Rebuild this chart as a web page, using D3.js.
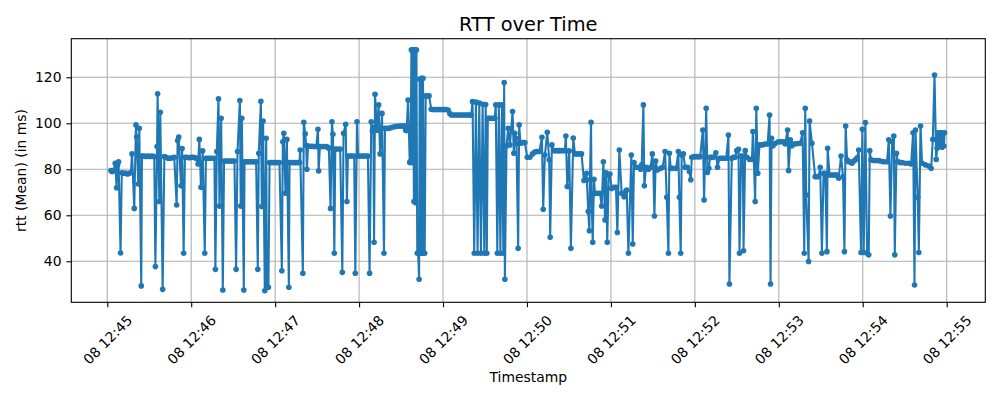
<!DOCTYPE html>
<html>
<head>
<meta charset="utf-8">
<script src="https://cdn.jsdelivr.net/npm/d3@7"></script>
<style>
  body { margin: 0; background: #fff; }
  svg { display: block; font-family: "DejaVu Sans", sans-serif; }
</style>
</head>
<body>
<svg id="chart"></svg>
<script>
// samples: [seconds after 12:45:00, rtt mean in ms]
const min45 = [[2.6,79.4],[3.5,79],[4.5,79.5],[5.7,82.6],[6.7,72],[7.4,82],[8.1,83.3],[9.5,43.6],[10.4,78.5],[11.5,78.3],[12.5,78.3],[13.5,78.3],[14.5,78],[15.5,78.3],[16.9,78.5],[17.7,86.7],[19.3,63],[20.5,99.3],[21,94],[22.2,73.6],[22.9,97.8],[24.3,29.3],[24.8,85.8],[26,85.8],[27.5,85.6],[29,85.8],[30.5,85.6],[32,85.8],[33.6,85.5],[34.4,37.7],[35.6,89.9],[36,112.8],[37.2,66],[37.9,104.8],[39.6,27.8],[40.8,85.5],[42,85.2],[43.5,84.8],[45,84.8],[46.5,85],[47.9,85.2],[49.6,64.5],[50.3,92.5],[51.1,94],[52.7,72.8],[53.5,89],[54.6,43.5],[55.5,85.2],[57,85.2],[58.5,85]];
const min46 = [[60,85.2],[61.5,85.2],[63,85],[63.5,84.8],[64.9,82.3],[65.8,93],[67,72.2],[68.2,88],[69.7,43.5],[70.5,84.8],[72,84.8],[73.5,84.8],[75,84.8],[76.6,84.8],[77.3,36.5],[78.3,87.7],[79.5,110.6],[80.2,64],[81.4,102.2],[82.6,27.5],[83.5,83.6],[85,83.6],[86.5,83.6],[88,83.6],[89.5,83.6],[90.9,83.6],[92.1,36.5],[93.1,87.7],[94.8,109.9],[95.4,64],[96.2,102.2],[97.6,27.5],[98.1,83.3],[99.5,83.3],[101,83.3],[102.5,83.3],[104,83.3],[105.5,83.3],[106.4,83.3],[107.6,36.5],[108.3,87],[109.8,109.6],[110.5,63.8],[111.4,101],[112.6,27.2],[113.6,93.5],[114.1,28.7],[115.2,28.7],[116,82.9],[117.5,82.9],[119,82.9]];
const min47 = [[120.5,82.9],[122,82.9],[123.1,82.9],[124.8,35.9],[125.5,92],[126.2,95.7],[127.4,69.6],[128.4,93],[129.8,28.7],[130.3,82.9],[131.5,82.9],[133,82.9],[134.5,82.9],[136,82.9],[137.4,82.9],[137.9,88.4],[139.8,34.8],[140.5,100.4],[141.5,95.4],[142.2,90.3],[142.7,80],[143.5,90.1],[145,90],[146.5,90],[148,89.9],[149.4,89.9],[150.6,97.4],[151.1,79.3],[152,89.9],[153.5,89.9],[155,89.9],[156.5,89.9],[157.7,89.6],[158.4,89.1],[159.6,63],[160.6,100.7],[161.3,95.2],[162.3,43.5],[163,88.8],[164.5,88.8],[166.5,88.8],[168,35.2],[168.9,95.7],[170.4,99.6],[171.3,66],[172,85.8],[173.5,85.8],[175,85.8],[176.5,85.8],[177.3,34.8],[178.5,100.7],[179.3,85.8]];
const min48 = [[180.5,85.8],[182,85.8],[183.5,85.8],[185,85.8],[186.3,85.8],[187.5,34.8],[188.7,100.7],[189.5,96.7],[190.2,98.1],[190.7,48.3],[191.4,112.6],[192.8,97],[194,108],[195,86.7],[196.4,104.3],[197.8,43.5],[198.5,97.8],[200,97.8],[201.5,97.8],[203,98.2],[204.5,98.4],[206,98.6],[207.5,98.7],[209,98.8],[210.5,98.8],[211.5,98.8],[212.6,98.8],[213.3,97],[214,96.8],[215,110.1],[216.2,83],[216.8,83.5],[217.4,131.9],[217.9,82.9],[218.6,131.9],[219.2,66],[219.8,131.9],[220.5,65.5],[221,131.9],[221.6,43.5],[222.2,43.5],[222.9,32.2],[223.3,119.1],[223.9,43.5],[224.5,119.6],[225.1,43.5],[225.7,119.6],[226.3,43.5],[226.9,43.5],[227.6,111.9],[229,111.9],[230,111.9],[231.6,106.1],[233,106],[234.5,106],[236,106],[237.5,106],[239,106]];
const min49 = [[240.5,106],[242,106],[243.6,105.8],[244.8,104.3],[246,103.6],[247.5,103.6],[249,103.6],[250.5,103.6],[252,103.6],[253.5,103.6],[255,103.6],[256.5,103.6],[258,103.6],[259.1,103.6],[260.2,103.6],[261.1,109.4],[262.3,43.5],[263.5,109.2],[264.7,43.5],[265.9,108.8],[267.1,43.5],[268.3,108.3],[269.5,43.5],[270.5,108.2],[271.3,43.5],[272,102.2],[273,102.2],[274.5,102.2],[276,102.2],[277,102.2],[277.7,108],[278.8,43.5],[279.9,108],[281,43.5],[282.1,108],[283.1,43.5],[283.7,117.7],[284.2,32.2],[285.4,90.1],[286.6,97.8],[287.8,90.6],[289.7,105.1],[290.6,87],[291.3,95.7],[292,93.5],[292.5,91.3],[293.7,45.7],[294.4,99.3],[295.4,91.3],[296.8,91.6],[298.5,91.6]];
const min50 = [[300.2,85.2],[302.1,85.2],[304,86.7],[305.5,87.5],[306.9,87.7],[308.8,87.7],[310.7,93.9],[311.6,62.6],[312.8,86.2],[314.5,96.1],[315.9,84.1],[316.6,50.4],[317.8,90.6],[319.2,88.1],[321,88.1],[322.5,88.1],[323.5,88.1],[325,88.1],[327.1,88.1],[327.8,94.5],[328.8,72.5],[330.2,88],[331.4,45.7],[333.1,93.6],[334.3,86.7],[336,86.7],[337.5,86.7],[339,86.7],[340.7,75.1],[342.6,78.3],[343.8,61.6],[344.6,53.3],[345,75.4],[345.8,100.4],[346.2,68.1],[347,48.3],[347.9,75.7],[348.6,69.6],[350.3,69.6],[352.2,69.6],[353.4,64],[354.6,83.3],[355.8,58],[356.5,78.5],[357.4,48.3],[358.4,77.5],[359.3,77.9]];
const min51 = [[360.5,71.7],[362.2,72.2],[363.6,72.2],[364.6,52.5],[366,88.4],[367.7,69.6],[369.4,68.1],[370.8,70.7],[371.3,71],[372.5,43.5],[374.6,86.2],[375.6,47.5],[376.5,82.9],[378,80.9],[380.3,80.9],[381.3,80],[382,81.9],[383.2,108],[383.9,72.8],[385.1,80.9],[386.8,80],[388.4,80.9],[389.6,86.7],[390.3,80.9],[391.1,59.7],[392,83.6],[393.2,79.7],[395.6,80.4],[397,80.9],[398.7,87.7],[399.9,67.8],[401.1,43.5],[401.8,87],[402.8,80.4],[404.2,80.4],[406.6,80.4],[408.2,87.7],[408.9,67.8],[409.9,43.5],[410.6,86.2],[411.8,86.7],[413,80.9],[414.7,80.9],[416.1,79],[417.1,75.4],[417.8,85.2],[419.5,85.5]];
const min52 = [[421,85.5],[422.5,85.5],[423.8,85.5],[425.7,97.1],[426.6,66.7],[428.1,106.5],[429,78.6],[430,80.4],[430.9,85.2],[432,85.2],[433.3,85.2],[435,87.2],[436.2,80.9],[437.6,84.8],[439,84.8],[440.5,84.8],[442.4,84.8],[444,94.9],[444.7,30.1],[446.4,84.8],[447.5,85.2],[448.8,85.2],[450,88.1],[451.2,88.7],[451.9,43.5],[453.1,85.8],[454.3,85.8],[454.8,44.6],[456,88.1],[457.2,85.2],[459.1,84.3],[460.8,84.3],[461.5,96.4],[463.1,66],[463.9,106.5],[465,78.3],[466.2,90.6],[467.9,90.6],[469,90.8],[470.3,91],[472,91],[473.4,103.6],[474.1,30.1],[474.8,93.5],[475.8,90.1],[477.5,91.3],[479.8,92]];
const min53 = [[481.5,92],[483.4,92],[484.6,91],[486.3,97.1],[487,79.4],[488.2,92.8],[489.3,90.1],[490.5,91],[491.7,91],[493.5,91.2],[495.3,91.3],[497,95.9],[498.2,43.5],[498.9,106.5],[499.6,68.8],[501.3,39.9],[502,101],[503.7,91.3],[506,76.8],[507,76.8],[508.4,76.8],[509.6,80.9],[510.8,43.5],[512,78.3],[513.2,78.3],[514.4,44.2],[514.9,89.1],[516.3,77.5],[518,77.5],[519.2,77.5],[520.5,77.5],[521.6,77.5],[522.8,76.1],[524.5,85.8],[525.9,76.8],[526.9,44.2],[527.8,98.8],[528.8,84.1],[530,83.3],[531,83.3],[532.3,82.6],[533.5,83.5],[534.7,84.1],[536,85],[537.1,88.4],[538.8,43.8],[539.7,97.4]];
const min54 = [[540.7,43.8],[541.9,100.3],[543.1,43.5],[544.3,42.8],[545,88.1],[545.9,84.1],[547.8,83.8],[549.5,83.8],[551.4,83.8],[553,83.5],[555,83.3],[557.4,83.3],[558.6,92.8],[559.8,59.7],[561,92],[562.2,94.5],[562.9,42.8],[564.1,87],[565,83.3],[566.5,83],[568.1,82.9],[570.5,82.6],[572.9,82.6],[574.6,82.3],[576,95.9],[577,29.7],[577.7,97.1],[579.3,67.8],[580.1,43.8],[581.3,98.8],[582.4,82.6],[584.8,81.9],[587.2,81.4],[588.9,80.4],[590.1,93],[591.3,121],[592.5,84.3],[593.2,89.1],[593.7,95.9],[594.3,90.1],[595.1,95.9],[595.7,90.1],[596.1,95.9],[596.8,89.6],[597.4,95.9],[598,90.1],[598.5,95.9]];

const yTicks = [40, 60, 80, 100, 120];
const startTime = new Date(2024, 0, 8, 12, 45, 0);

const size = { width: 1000, height: 400 };
const margin = { top: 38.7, right: 14.7, bottom: 97.7, left: 71.3 };
const innerW = size.width - margin.left - margin.right;
const innerH = size.height - margin.top - margin.bottom;

const data = [].concat(min45, min46, min47, min48, min49, min50, min51, min52, min53, min54)
  .map(d => ({ time: new Date(+startTime + d[0] * 1000), rtt: d[1] }));

const svg = d3.select("#chart").attr("width", size.width).attr("height", size.height);

const x = d3.scaleTime()
  .domain([new Date(+startTime - 25.7 * 1000), new Date(+startTime + 627.6 * 1000)])
  .range([0, innerW]);
const y = d3.scaleLinear().domain([22.17, 136.78]).range([innerH, 0]);

const g = svg.append("g").attr("transform", `translate(${margin.left},${margin.top})`);

const xTicks = d3.range(0, 11).map(i => new Date(+startTime + i * 60000));

// grid
g.append("g").selectAll("line").data(xTicks).enter().append("line")
  .attr("x1", d => x(d)).attr("x2", d => x(d)).attr("y1", 0).attr("y2", innerH)
  .attr("stroke", "#b0b0b0").attr("stroke-width", 1.1);
g.append("g").selectAll("line").data(yTicks).enter().append("line")
  .attr("x1", 0).attr("x2", innerW).attr("y1", d => y(d)).attr("y2", d => y(d))
  .attr("stroke", "#b0b0b0").attr("stroke-width", 1.1);

// series
const line = d3.line().x(d => x(d.time)).y(d => y(d.rtt));
g.append("path").datum(data).attr("d", line)
  .attr("fill", "none").attr("stroke", "#1f77b4").attr("stroke-width", 2.08)
  .attr("stroke-linejoin", "round");
g.append("g").selectAll("circle").data(data).enter().append("circle")
  .attr("cx", d => x(d.time)).attr("cy", d => y(d.rtt)).attr("r", 2.8)
  .attr("fill", "#1f77b4");

// axes
const fmt = d3.timeFormat("%d %H:%M");
const xAxis = d3.axisBottom(x).tickValues(xTicks).tickFormat(fmt).tickSize(4.9).tickPadding(4.9);
const yAxis = d3.axisLeft(y).tickValues(yTicks).tickSize(4.9).tickPadding(4.9);

const gx = g.append("g").attr("transform", `translate(0,${innerH})`).call(xAxis);
const gy = g.append("g").call(yAxis);
[gx, gy].forEach(a => {
  a.select(".domain").remove();
  a.selectAll("line").attr("stroke", "#000").attr("stroke-width", 1.1);
  a.selectAll("text").attr("font-family", "DejaVu Sans").attr("font-size", 13.9).attr("fill", "#000");
});

// rotated x labels, centred under the tick like matplotlib's rotation=45
gx.selectAll(".tick text").each(function() {
  const t = d3.select(this);
  const w = this.getComputedTextLength();
  const h = 16;
  const off = 4.9 + 4.9 + (w + h) / (2 * Math.SQRT2);
  t.attr("y", null).attr("dy", "0.35em").attr("text-anchor", "middle")
    .attr("transform", `translate(0,${off}) rotate(-45)`);
});

// frame
g.append("rect").attr("width", innerW).attr("height", innerH)
  .attr("fill", "none").attr("stroke", "#000").attr("stroke-width", 1.1);

// labels
svg.append("text").attr("x", margin.left + innerW / 2).attr("y", 30.5)
  .attr("text-anchor", "middle").attr("font-size", 19.4).text("RTT over Time");
svg.append("text").attr("x", margin.left + innerW / 2).attr("y", 382)
  .attr("text-anchor", "middle").attr("font-size", 13.9).text("Timestamp");
svg.append("text").attr("transform", `translate(26,${margin.top + innerH / 2}) rotate(-90)`)
  .attr("text-anchor", "middle").attr("font-size", 13.9).text("rtt (Mean) (in ms)");
</script>
</body>
</html>
